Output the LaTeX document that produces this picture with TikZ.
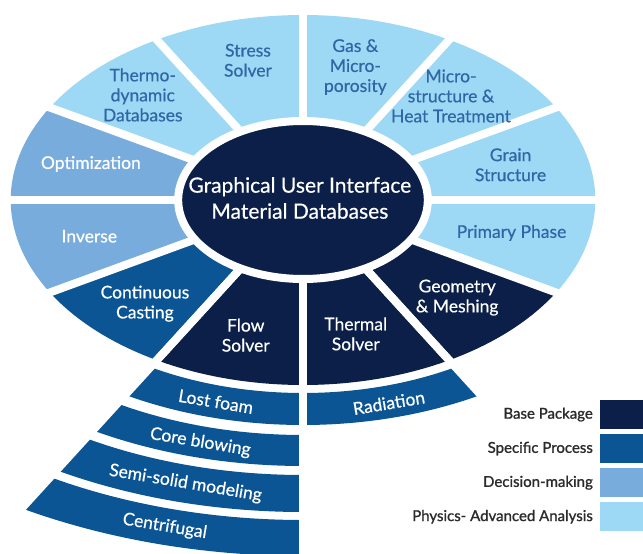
\documentclass[tikz,border=0pt]{standalone}
\usepackage{fontspec}
\setmainfont{Lato}[FakeBold=0.5]
\newfontfamily\legendfont{Lato}[FakeBold=1.2]
\usepackage{tikz}
\usetikzlibrary{positioning}

\definecolor{basepkg}{HTML}{0B1F48}
\definecolor{specproc}{HTML}{0B5595}
\definecolor{decision}{HTML}{78ACDC}
\definecolor{physics}{HTML}{9DD8F4}
\definecolor{phystext}{HTML}{2F66A6}
\definecolor{legtext}{HTML}{2B2B2B}

\begin{document}
\begin{tikzpicture}[
  x=1pt, y=1pt,
  seg/.style={
    font=\fontsize{17.5}{20}\selectfont,
    align=center, inner sep=0pt
  },
  gap/.style={white, line width=8pt},
  legbox/.style={
    minimum width=43pt, minimum height=29pt,
    inner sep=0pt, anchor=west
  },
  legtxt/.style={
    font=\legendfont\fontsize{15}{18}\selectfont,
    text=legtext, inner sep=0pt, anchor=east
  },
]
\useasboundingbox (-303,-354) rectangle (340,200);

\begin{scope}[xscale=1.58]
\foreach \a/\c in {0/physics, 30/physics, 60/physics, 90/physics,
    120/physics, 150/decision, 180/decision, 210/specproc,
    240/basepkg, 270/basepkg, 300/basepkg, 330/physics}
  \fill[\c] (0,0) -- (\a:185) arc[start angle=\a, delta angle=30, radius=185] -- cycle;

\foreach \ri/\ro in {193/225, 235/266, 275/312, 320/356}
  \fill[specproc] (240:\ri) -- (240:\ro)
    arc[start angle=240, end angle=270, radius=\ro] -- (270:\ri)
    arc[start angle=270, end angle=240, radius=\ri] -- cycle;
\fill[specproc] (270:193) -- (270:225)
  arc[start angle=270, end angle=300, radius=225] -- (300:193)
  arc[start angle=300, end angle=270, radius=193] -- cycle;

\foreach \a in {0,30,...,330}
  \draw[gap] (0,0) -- (\a:190);
\draw[gap] (0,0) -- (240:362);
\draw[gap] (0,0) -- (270:362);
\draw[gap] (0,0) -- (300:232);

\draw[white, line width=8pt, fill=basepkg] (0,0) circle[radius=79];
\node[seg, font=\fontsize{21}{26}\selectfont, text=white] (gui) at (-2,2)
  {Graphical User Interface\\Material Databases};

\foreach \n/\a/\r/\tc/\t in {
    stress/104/144/phystext/{Stress\\Solver},
    gas/76/137/phystext/{Gas \&\\Micro-\\porosity},
    micro/48/140/phystext/{Micro-\\structure \&\\Heat Treatment},
    grain/15/136/phystext/{Grain\\Structure},
    primary/-14/136/phystext/{Primary Phase},
    geometry/-45/138/white/{Geometry\\\& Meshing},
    thermal/-76/138/white/{Thermal\\Solver},
    flow/255/140/white/{Flow\\Solver},
    casting/226/144/white/{Continuous\\Casting},
    inverse/195/140/white/{Inverse},
    optim/165/139/white/{Optimization},
    thermo/134/146/phystext/{Thermo-\\dynamic\\Databases}}
  \node[seg, text=\tc] (\n) at (\a:\r) {\t};

\foreach \n/\a/\r/\t in {lost/254.7/209/Lost foam, core/255/251/Core blowing,
    semi/255.3/293/Semi-solid modeling, centri/255/338/Centrifugal}
  \node[seg, text=white, rotate=-9.5] (\n) at (\a:\r) {\t};
\node[seg, text=white, rotate=9.5] (radiation) at (285:210) {Radiation};
\end{scope}

\node[legbox, fill=basepkg] (kbase) at (297,-214.5) {};
\node[legbox, fill=specproc, below=4.7pt of kbase] (kproc) {};
\node[legbox, fill=decision, below=4.7pt of kproc] (kdec) {};
\node[legbox, fill=physics, below=4.7pt of kdec] (kphys) {};
\node[legtxt, left=7pt of kbase] (tbase) {Base Package};
\node[legtxt, left=7pt of kproc] (tproc) {Specific Process};
\node[legtxt, left=7pt of kdec] (tdec) {Decision-making};
\node[legtxt, left=7pt of kphys] (tphys) {Physics- Advanced Analysis};
\end{tikzpicture}
\end{document}
